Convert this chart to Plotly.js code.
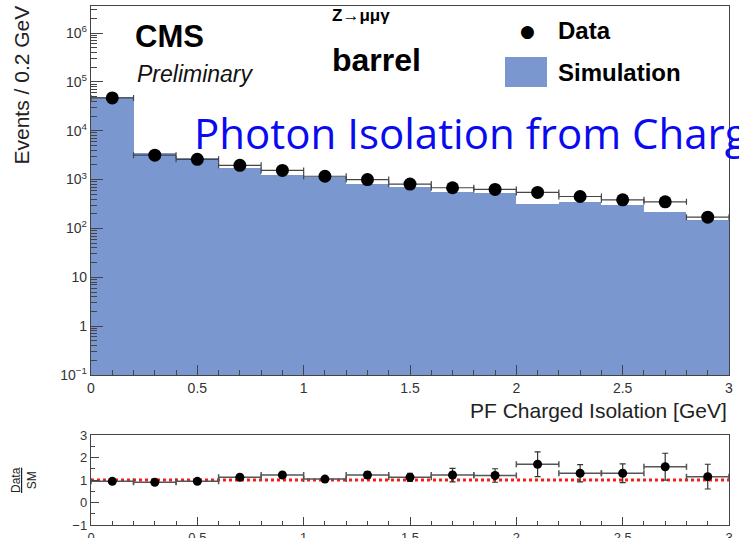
<!DOCTYPE html>
<html><head><meta charset="utf-8">
<script src="https://cdn.plot.ly/plotly-3.0.1.min.js"></script>
<style>html,body{margin:0;padding:0;background:#fff;}#chart{width:739px;height:538px;}</style>
</head><body><div id="chart"></div>
<script>
// ---- data ----
var binCenters = [0.1,0.3,0.5,0.7,0.9,1.1,1.3,1.5,1.7,1.9,2.1,2.3,2.5,2.7,2.9];
var dataEvents = [47000,3160,2600,1960,1540,1170,1000,810,680,630,545,450,385,350,170];
var simEvents  = [50000,3500,2750,1750,1270,1120,820,720,560,525,320,345,295,220,148];
var ratioVals  = [0.94,0.90,0.94,1.12,1.22,1.04,1.22,1.12,1.22,1.20,1.70,1.30,1.30,1.59,1.15];
var ratioErrs  = [0.05,0.05,0.06,0.08,0.10,0.10,0.15,0.18,0.30,0.30,0.55,0.38,0.42,0.60,0.55];
var refLineX = [0,3];
var refLineY = [1,1];
var xTickVals = [0,0.5,1,1.5,2,2.5,3];
var xTickText = ['0','0.5','1','1.5','2','2.5','3'];
var yTickVals = [0.1,1,10,100,1000,10000,100000,1000000];
var yTickText = ['10<sup>−1</sup>','1','10','10<sup>2</sup>','10<sup>3</sup>','10<sup>4</sup>','10<sup>5</sup>','10<sup>6</sup>'];
var rTickVals = [-1,0,1,2,3];
var rTickText = ['−1','0','1','2','3'];

// ---- layout helpers (pixel -> paper) ----
var W=739,H=538,L=91,R=10,T=6,B=13;
var PW=W-L-R, PH=H-T-B;
function fx(p){return (p-L)/PW;}
function fy(p){return (H-B-p)/PH;}

var minorLog=[];
for(var e=-1;e<7;e++){for(var m=2;m<10;m++){minorLog.push(m*Math.pow(10,e));}}

var blue='#7a97d0';
var tickFont={family:'Liberation Sans, Arial, sans-serif',size:14,color:'#333'};
var rTickFont={family:'Liberation Sans, Arial, sans-serif',size:13,color:'#333'};

var traces=[
 {type:'bar',x:binCenters,y:simEvents,width:0.2,marker:{color:blue,line:{width:0}},xaxis:'x',yaxis:'y',showlegend:false,hoverinfo:'skip'},
 {type:'scatter',mode:'markers',x:binCenters,y:dataEvents,marker:{color:'#000',size:13},
  error_x:{type:'constant',value:0.1,color:'#444',thickness:1.2,width:3},xaxis:'x',yaxis:'y',showlegend:false},
 {type:'scatter',mode:'lines',x:refLineX,y:refLineY,line:{color:'#ff1a1a',width:3,dash:'dot'},xaxis:'x2',yaxis:'y2',showlegend:false},
 {type:'scatter',mode:'markers',x:binCenters,y:ratioVals,marker:{color:'#000',size:9},
  error_x:{type:'constant',value:0.1,color:'#555',thickness:1.5,width:3},
  error_y:{type:'data',array:ratioErrs,color:'#333',thickness:1.2,width:3},xaxis:'x2',yaxis:'y2',showlegend:false}
];

var axBase={showline:true,linecolor:'#444',linewidth:1.2,mirror:true,ticks:'inside',tickcolor:'#444',showgrid:false,zeroline:false,tickfont:tickFont};

var layout={
 width:W,height:H,margin:{l:L,r:R,t:T,b:B},paper_bgcolor:'#fff',plot_bgcolor:'#fff',bargap:0,showlegend:false,
 xaxis:Object.assign({},axBase,{domain:[0,1],range:[0,3],anchor:'y',tickmode:'array',tickvals:xTickVals,ticktext:xTickText,ticklen:10,
   minor:{dtick:0.1,ticks:'inside',ticklen:5,tickcolor:'#444',showgrid:false}}),
 yaxis:Object.assign({},axBase,{domain:[fy(375),1],type:'log',range:[-1,6.553],anchor:'x',tickmode:'array',tickvals:yTickVals,ticktext:yTickText,ticklen:12,
   minor:{tickmode:'array',tickvals:minorLog,ticks:'inside',ticklen:6,tickcolor:'#444',showgrid:false}}),
 xaxis2:Object.assign({},axBase,{domain:[0,1],range:[0,3],anchor:'y2',tickmode:'array',tickvals:xTickVals,ticktext:xTickText,ticklen:8,tickfont:rTickFont,
   minor:{dtick:0.1,ticks:'inside',ticklen:4,tickcolor:'#444',showgrid:false}}),
 yaxis2:Object.assign({},axBase,{domain:[0,fy(435)],range:[-1,3],anchor:'x2',tickmode:'array',tickvals:rTickVals,ticktext:rTickText,ticklen:8,tickfont:rTickFont,
   minor:{dtick:0.5,ticks:'inside',ticklen:4,tickcolor:'#444',showgrid:false}}),
 shapes:[
   {type:'rect',xref:'paper',yref:'paper',x0:fx(505),x1:fx(547),y0:fy(87),y1:fy(57),fillcolor:blue,line:{width:0}}
 ],
 annotations:[
   {xref:'paper',yref:'paper',x:fx(133),y:fy(37),xanchor:'left',yanchor:'middle',showarrow:false,text:'<b>CMS</b>',font:{family:'Liberation Sans, Arial',size:31,color:'#000'}},
   {xref:'paper',yref:'paper',x:fx(135),y:fy(74),xanchor:'left',yanchor:'middle',showarrow:false,text:'<i>Preliminary</i>',font:{family:'Liberation Sans, Arial',size:23,color:'#111'}},
   {xref:'paper',yref:'paper',x:fx(330),y:fy(16),xanchor:'left',yanchor:'middle',showarrow:false,text:'<b>Z→μμγ</b>',font:{family:'Liberation Sans, Arial',size:17,color:'#000'}},
   {xref:'paper',yref:'paper',x:fx(330),y:fy(60),xanchor:'left',yanchor:'middle',showarrow:false,text:'<b>barrel</b>',font:{family:'Liberation Sans, Arial',size:32,color:'#000'}},
   {xref:'paper',yref:'paper',x:fx(527),y:fy(31),xanchor:'center',yanchor:'middle',showarrow:false,text:'●',font:{family:'DejaVu Sans',size:17,color:'#000'}},
   {xref:'paper',yref:'paper',x:fx(556),y:fy(31),xanchor:'left',yanchor:'middle',showarrow:false,text:'<b>Data</b>',font:{family:'Liberation Sans, Arial',size:24,color:'#000'}},
   {xref:'paper',yref:'paper',x:fx(556),y:fy(72),xanchor:'left',yanchor:'middle',showarrow:false,text:'<b>Simulation</b>',font:{family:'Liberation Sans, Arial',size:24,color:'#000'}},
   {xref:'paper',yref:'paper',x:fx(192),y:fy(132),xanchor:'left',yanchor:'middle',showarrow:false,text:'Photon Isolation from Charged Hadrons',font:{family:'Open Sans',size:42,color:'#0a0af0'}},
   {xref:'paper',yref:'paper',x:fx(729),y:fy(410),xanchor:'right',yanchor:'middle',showarrow:false,text:'PF Charged Isolation [GeV]',font:{family:'Liberation Sans, Arial',size:21,color:'#222'}},
   {xref:'paper',yref:'paper',x:fx(21),y:fy(4),xanchor:'center',yanchor:'top',textangle:-90,showarrow:false,text:'Events / 0.2 GeV',font:{family:'Liberation Sans, Arial',size:21,color:'#222'}},
   {xref:'paper',yref:'paper',x:fx(24),y:fy(480),xanchor:'center',yanchor:'middle',textangle:-90,showarrow:false,text:'<u>Data</u><br>SM',font:{family:'Liberation Sans, Arial',size:12,color:'#222'}}
 ]
};
Plotly.newPlot('chart',traces,layout,{staticPlot:true});
</script></body></html>
